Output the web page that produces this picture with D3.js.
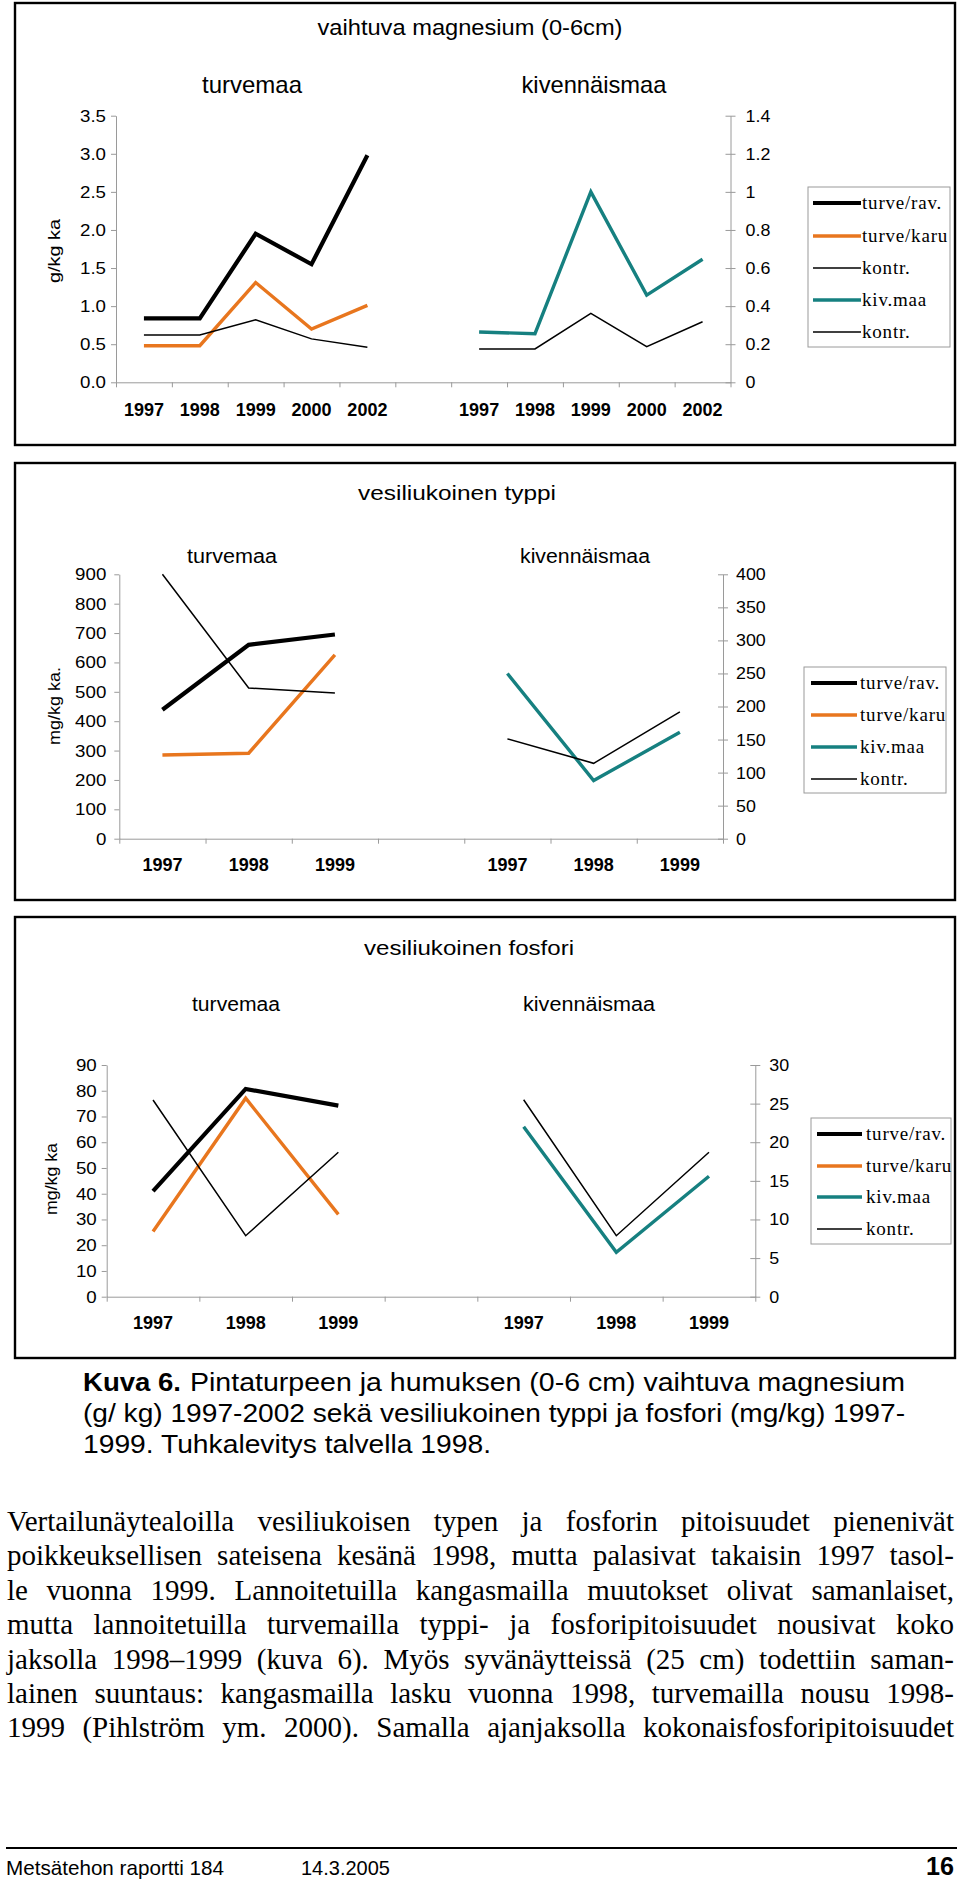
<!DOCTYPE html>
<html><head><meta charset="utf-8">
<script src="https://cdn.jsdelivr.net/npm/d3@7"></script>
<style>
body{margin:0;background:#fff;}
svg{display:block;}
</style></head><body>
<svg id="page" width="960" height="1900"></svg>
<script>
// ---------- DATA ----------
const mgYears = ["1997","1998","1999","2000","2002"];
const mgTurveRav   = [0.84, 0.84, 1.95, 1.55, 2.98];
const mgTurveKaru  = [0.48, 0.48, 1.31, 0.70, 1.01];
const mgTurveKontr = [0.62, 0.62, 0.82, 0.57, 0.46];
const mgKivMaa     = [0.264, 0.255, 1.00, 0.458, 0.646];
const mgKivKontr   = [0.175, 0.175, 0.362, 0.187, 0.318];
const mgLeftTicks  = [0, 0.5, 1.0, 1.5, 2.0, 2.5, 3.0, 3.5];
const mgRightTicks = [0, 0.2, 0.4, 0.6, 0.8, 1, 1.2, 1.4];
const mgLegend = ["turve/rav.", "turve/karu", "kontr.", "kiv.maa", "kontr."];

const nYears = ["1997","1998","1999"];
const nTurveRav   = [439, 660, 695];
const nTurveKaru  = [285, 291, 626];
const nTurveKontr = [900, 513, 496];
const nKivMaa     = [250, 88, 161];
const nKivKontr   = [151, 114, 192];
const nLeftTicks  = [0,100,200,300,400,500,600,700,800,900];
const nRightTicks = [0,50,100,150,200,250,300,350,400];
const nLegend = ["turve/rav.", "turve/karu", "kiv.maa", "kontr."];

const pYears = ["1997","1998","1999"];
const pTurveRav   = [41.0, 80.7, 74.2];
const pTurveKaru  = [25.3, 77.1, 32.0];
const pTurveKontr = [76.4, 23.7, 56.1];
const pKivMaa     = [22.0, 5.75, 15.6];
const pKivKontr   = [25.5, 7.9, 18.7];
const pLeftTicks  = [0,10,20,30,40,50,60,70,80,90];
const pRightTicks = [0,5,10,15,20,25,30];
const pLegend = ["turve/rav.", "turve/karu", "kiv.maa", "kontr."];

const titles = ["vaihtuva magnesium (0-6cm)", "vesiliukoinen typpi", "vesiliukoinen fosfori"];
const groupNames = ["turvemaa", "kivennäismaa"];
const yLabels = ["g/kg ka", "mg/kg ka.", "mg/kg ka"];

const captionBold = "Kuva 6.";
const captionLines = [
  "Pintaturpeen ja humuksen  (0-6 cm) vaihtuva magnesium",
  "(g/ kg) 1997-2002 sekä vesiliukoinen typpi ja fosfori (mg/kg) 1997-",
  "1999. Tuhkalevitys talvella 1998."
];
const bodyLines = [
  "Vertailunäytealoilla vesiliukoisen typen ja fosforin pitoisuudet pienenivät",
  "poikkeuksellisen sateisena kesänä 1998, mutta palasivat takaisin 1997 tasol-",
  "le vuonna 1999. Lannoitetuilla kangasmailla muutokset olivat samanlaiset,",
  "mutta lannoitetuilla turvemailla typpi- ja fosforipitoisuudet nousivat koko",
  "jaksolla 1998–1999 (kuva 6). Myös syvänäytteissä (25 cm) todettiin saman-",
  "lainen suuntaus: kangasmailla lasku vuonna 1998, turvemailla nousu 1998-",
  "1999 (Pihlström ym. 2000). Samalla ajanjaksolla kokonaisfosforipitoisuudet"
];
const footerLeft = "Metsätehon raportti 184";
const footerDate = "14.3.2005";
const footerPage = "16";

// ---------- STYLES ----------
const SANS = "'Liberation Sans', Arial, sans-serif";
const SERIF = "'Liberation Serif', 'Times New Roman', serif";
const STY = {
  rav:   {color:"#000000", w:4.2},
  karu:  {color:"#E8761E", w:3.4},
  kiv:   {color:"#168080", w:3.4},
  kontr: {color:"#000000", w:1.5}
};
const AXIS_COLOR = "#9a9a9a";

const svg = d3.select("#page");
svg.append("rect").attr("width",960).attr("height",1900).attr("fill","#fff");

function fitText(g, str, x, y, opts) {
  const t = g.append("text").attr("x", x).attr("y", y).text(str)
    .attr("font-family", opts.family || SANS)
    .attr("font-size", opts.size)
    .attr("font-weight", opts.weight || "normal")
    .attr("text-anchor", opts.anchor || "start")
    .attr("fill", "#000");
  if (opts.len) t.attr("textLength", opts.len).attr("lengthAdjust", "spacingAndGlyphs");
  if (opts.transform) t.attr("transform", opts.transform);
  return t;
}

function widen(sel, k) {
  sel.selectAll("text").each(function() {
    const w = this.getComputedTextLength();
    if (w > 0) d3.select(this).attr("textLength", w * k).attr("lengthAdjust", "spacingAndGlyphs");
  });
}

function drawChart(c) {
  const g = svg.append("g");
  g.append("rect").attr("x", c.box[0]).attr("y", c.box[1])
    .attr("width", c.box[2]-c.box[0]).attr("height", c.box[3]-c.box[1])
    .attr("fill","none").attr("stroke","#000").attr("stroke-width",2.4);

  fitText(g, c.title, c.titlePos[0], c.titlePos[1], {size:c.titleSize, anchor:"middle", len:c.titleLen});
  fitText(g, groupNames[0], c.sub1[0], c.subY, {size:c.subSize, anchor:"middle", len:c.sub1[1]});
  fitText(g, groupNames[1], c.sub2[0], c.subY, {size:c.subSize, anchor:"middle", len:c.sub2[1]});
  fitText(g, c.yLabel, 0, 0, {size:17, anchor:"middle", len:c.yLab[2],
    transform:`translate(${c.yLab[0]},${c.yLab[1]}) rotate(-90)`});

  const keys = [...c.years.map(y=>"t"+y), "gap", ...c.years.map(y=>"k"+y)];
  const band = d3.scaleBand().domain(keys).range([c.xL, c.xR]).padding(0);
  const bnd = d3.scaleLinear().domain([0, keys.length]).range([c.xL, c.xR]);
  const yL = d3.scaleLinear().domain([0, c.leftTicks[c.leftTicks.length-1]]).range([c.yB, c.yT]);
  const yR = d3.scaleLinear().domain([0, c.rightTicks[c.rightTicks.length-1]]).range([c.yB, c.yT]);

  const xa = g.append("g").attr("transform",`translate(0,${c.yB})`)
    .call(d3.axisBottom(bnd).tickValues(d3.range(0, keys.length+1)).tickSize(5).tickSizeOuter(0).tickFormat(""));
  xa.attr("color", AXIS_COLOR);
  const yl = g.append("g").attr("transform",`translate(0,${c.yB})`)
    .call(d3.axisBottom(band).tickSize(0).tickPadding(c.yearBase - c.yB - 12.8)
      .tickFormat(k => k === "gap" ? "" : k.slice(1)));
  yl.select(".domain").remove();
  yl.attr("font-family", SANS).attr("font-size", 18).attr("font-weight","bold");
  yl.selectAll("text").attr("fill","#000");

  const la = g.append("g").attr("transform",`translate(${c.xL},0)`)
    .call(d3.axisLeft(yL).tickValues(c.leftTicks).tickSize(5).tickSizeOuter(0).tickPadding(c.padL).tickFormat(c.fmtL));
  la.attr("color", AXIS_COLOR).attr("font-family", SANS).attr("font-size", 17);
  la.selectAll("text").attr("fill","#000");
  widen(la, 1.1);
  const ra = g.append("g").attr("transform",`translate(${c.xR},0)`)
    .call(d3.axisRight(yR).tickValues(c.rightTicks).tickSize(5).tickSizeOuter(0).tickPadding(c.padR).tickFormat(c.fmtR));
  ra.attr("color", AXIS_COLOR).attr("font-family", SANS).attr("font-size", 17);
  ra.selectAll(".tick line").attr("x1", -5);
  ra.selectAll("text").attr("fill","#000");
  widen(ra, 1.05);

  c.series.forEach(s => {
    const sc = s.axis === "L" ? yL : yR;
    const line = d3.line()
      .x((d,i) => band(s.side + c.years[i]) + band.bandwidth()/2)
      .y(d => sc(d));
    g.append("path").datum(s.vals).attr("d", line)
      .attr("fill","none").attr("stroke", STY[s.style].color)
      .attr("stroke-width", STY[s.style].w).attr("stroke-linejoin","miter").attr("stroke-miterlimit",10);
  });

  const L = c.legend;
  g.append("rect").attr("x", L.box[0]).attr("y", L.box[1])
    .attr("width", L.box[2]-L.box[0]).attr("height", L.box[3]-L.box[1])
    .attr("fill","#fff").attr("stroke","#9a9a9a").attr("stroke-width",1);
  c.legendNames.forEach((name, i) => {
    const st = STY[L.styles[i]];
    const y = L.ys[i];
    g.append("line").attr("x1", L.lx[0]).attr("x2", L.lx[1]).attr("y1", y).attr("y2", y)
      .attr("stroke", st.color).attr("stroke-width", st.w);
    g.append("text").attr("x", L.tx).attr("y", y + 6).text(name)
      .attr("font-family", SERIF).attr("font-size", 19).attr("letter-spacing", 0.8).attr("fill","#000");
  });
}

drawChart({
  box:[15, 3, 955, 445],
  title: titles[0], titlePos:[470, 35], titleSize:22, titleLen:305,
  sub1:[252, 100], sub2:[594, 145], subY:93, subSize:24,
  yLabel: yLabels[0], yLab:[60, 251, 64],
  years: mgYears, xL:116, xR:730.5, yT:115.7, yB:382.3, yearBase:416,
  leftTicks: mgLeftTicks, rightTicks: mgRightTicks,
  fmtL: d3.format(".1f"), fmtR: d => String(d), padL:5, padR:10,
  series:[
    {vals:mgTurveRav, side:"t", axis:"L", style:"rav"},
    {vals:mgTurveKaru, side:"t", axis:"L", style:"karu"},
    {vals:mgTurveKontr, side:"t", axis:"L", style:"kontr"},
    {vals:mgKivMaa, side:"k", axis:"R", style:"kiv"},
    {vals:mgKivKontr, side:"k", axis:"R", style:"kontr"}
  ],
  legendNames: mgLegend,
  legend:{box:[808,187,950,347], ys:[203,236,268,300,332], lx:[813,861], tx:862,
    styles:["rav","karu","kontr","kiv","kontr"]}
});

drawChart({
  box:[15, 463, 955, 900],
  title: titles[1], titlePos:[457, 500], titleSize:20, titleLen:198,
  sub1:[232, 90], sub2:[585, 130], subY:563, subSize:20,
  yLabel: yLabels[1], yLab:[60, 706, 78],
  years: nYears, xL:119.3, xR:723, yT:574.3, yB:838.7, yearBase:871,
  leftTicks: nLeftTicks, rightTicks: nRightTicks,
  fmtL: d => String(d), fmtR: d => String(d), padL:8, padR:8,
  series:[
    {vals:nTurveRav, side:"t", axis:"L", style:"rav"},
    {vals:nTurveKaru, side:"t", axis:"L", style:"karu"},
    {vals:nTurveKontr, side:"t", axis:"L", style:"kontr"},
    {vals:nKivMaa, side:"k", axis:"R", style:"kiv"},
    {vals:nKivKontr, side:"k", axis:"R", style:"kontr"}
  ],
  legendNames: nLegend,
  legend:{box:[804,667,946,793], ys:[683,715,747,779], lx:[811,857], tx:860,
    styles:["rav","karu","kiv","kontr"]}
});

drawChart({
  box:[15, 917, 955, 1358],
  title: titles[2], titlePos:[469, 955], titleSize:20, titleLen:210,
  sub1:[236, 88], sub2:[589, 132], subY:1011, subSize:20,
  yLabel: yLabels[2], yLab:[57, 1179, 72],
  years: pYears, xL:106.7, xR:755.3, yT:1065, yB:1296.7, yearBase:1329,
  leftTicks: pLeftTicks, rightTicks: pRightTicks,
  fmtL: d => String(d), fmtR: d => String(d), padL:5, padR:9,
  series:[
    {vals:pTurveRav, side:"t", axis:"L", style:"rav"},
    {vals:pTurveKaru, side:"t", axis:"L", style:"karu"},
    {vals:pTurveKontr, side:"t", axis:"L", style:"kontr"},
    {vals:pKivMaa, side:"k", axis:"R", style:"kiv"},
    {vals:pKivKontr, side:"k", axis:"R", style:"kontr"}
  ],
  legendNames: pLegend,
  legend:{box:[811,1118,951,1244], ys:[1134,1166,1197,1229], lx:[817,862], tx:866,
    styles:["rav","karu","kiv","kontr"]}
});

// ---------- CAPTION ----------
const cap = svg.append("g");
fitText(cap, captionBold, 83, 1391, {size:25, weight:"bold", len:98});
fitText(cap, captionLines[0], 190, 1391, {size:25, len:715});
fitText(cap, captionLines[1], 83, 1422, {size:25, len:822});
fitText(cap, captionLines[2], 83, 1453, {size:25, len:408});

// ---------- BODY (justified) ----------
const body = svg.append("g");
const bodyX = 7, bodyW = 947;
bodyLines.forEach((ln, i) => {
  const t = body.append("text").attr("x", bodyX).attr("y", 1531 + i*34.4).text(ln)
    .attr("font-family", SERIF).attr("font-size", 29).attr("fill","#000");
  const nat = t.node().getComputedTextLength();
  const spaces = (ln.match(/ /g) || []).length;
  if (nat < bodyW && spaces > 0) {
    t.attr("word-spacing", (bodyW - nat) / spaces);
  } else {
    t.attr("textLength", bodyW).attr("lengthAdjust", "spacingAndGlyphs");
  }
});

// ---------- FOOTER ----------
svg.append("line").attr("x1", 6).attr("x2", 957).attr("y1", 1848).attr("y2", 1848)
  .attr("stroke","#000").attr("stroke-width",2);
fitText(svg, footerLeft, 6, 1875, {size:21, len:218});
fitText(svg, footerDate, 301, 1875, {size:21, len:89});
fitText(svg, footerPage, 954, 1875, {size:25, weight:"bold", anchor:"end", len:28});
</script>
</body></html>
